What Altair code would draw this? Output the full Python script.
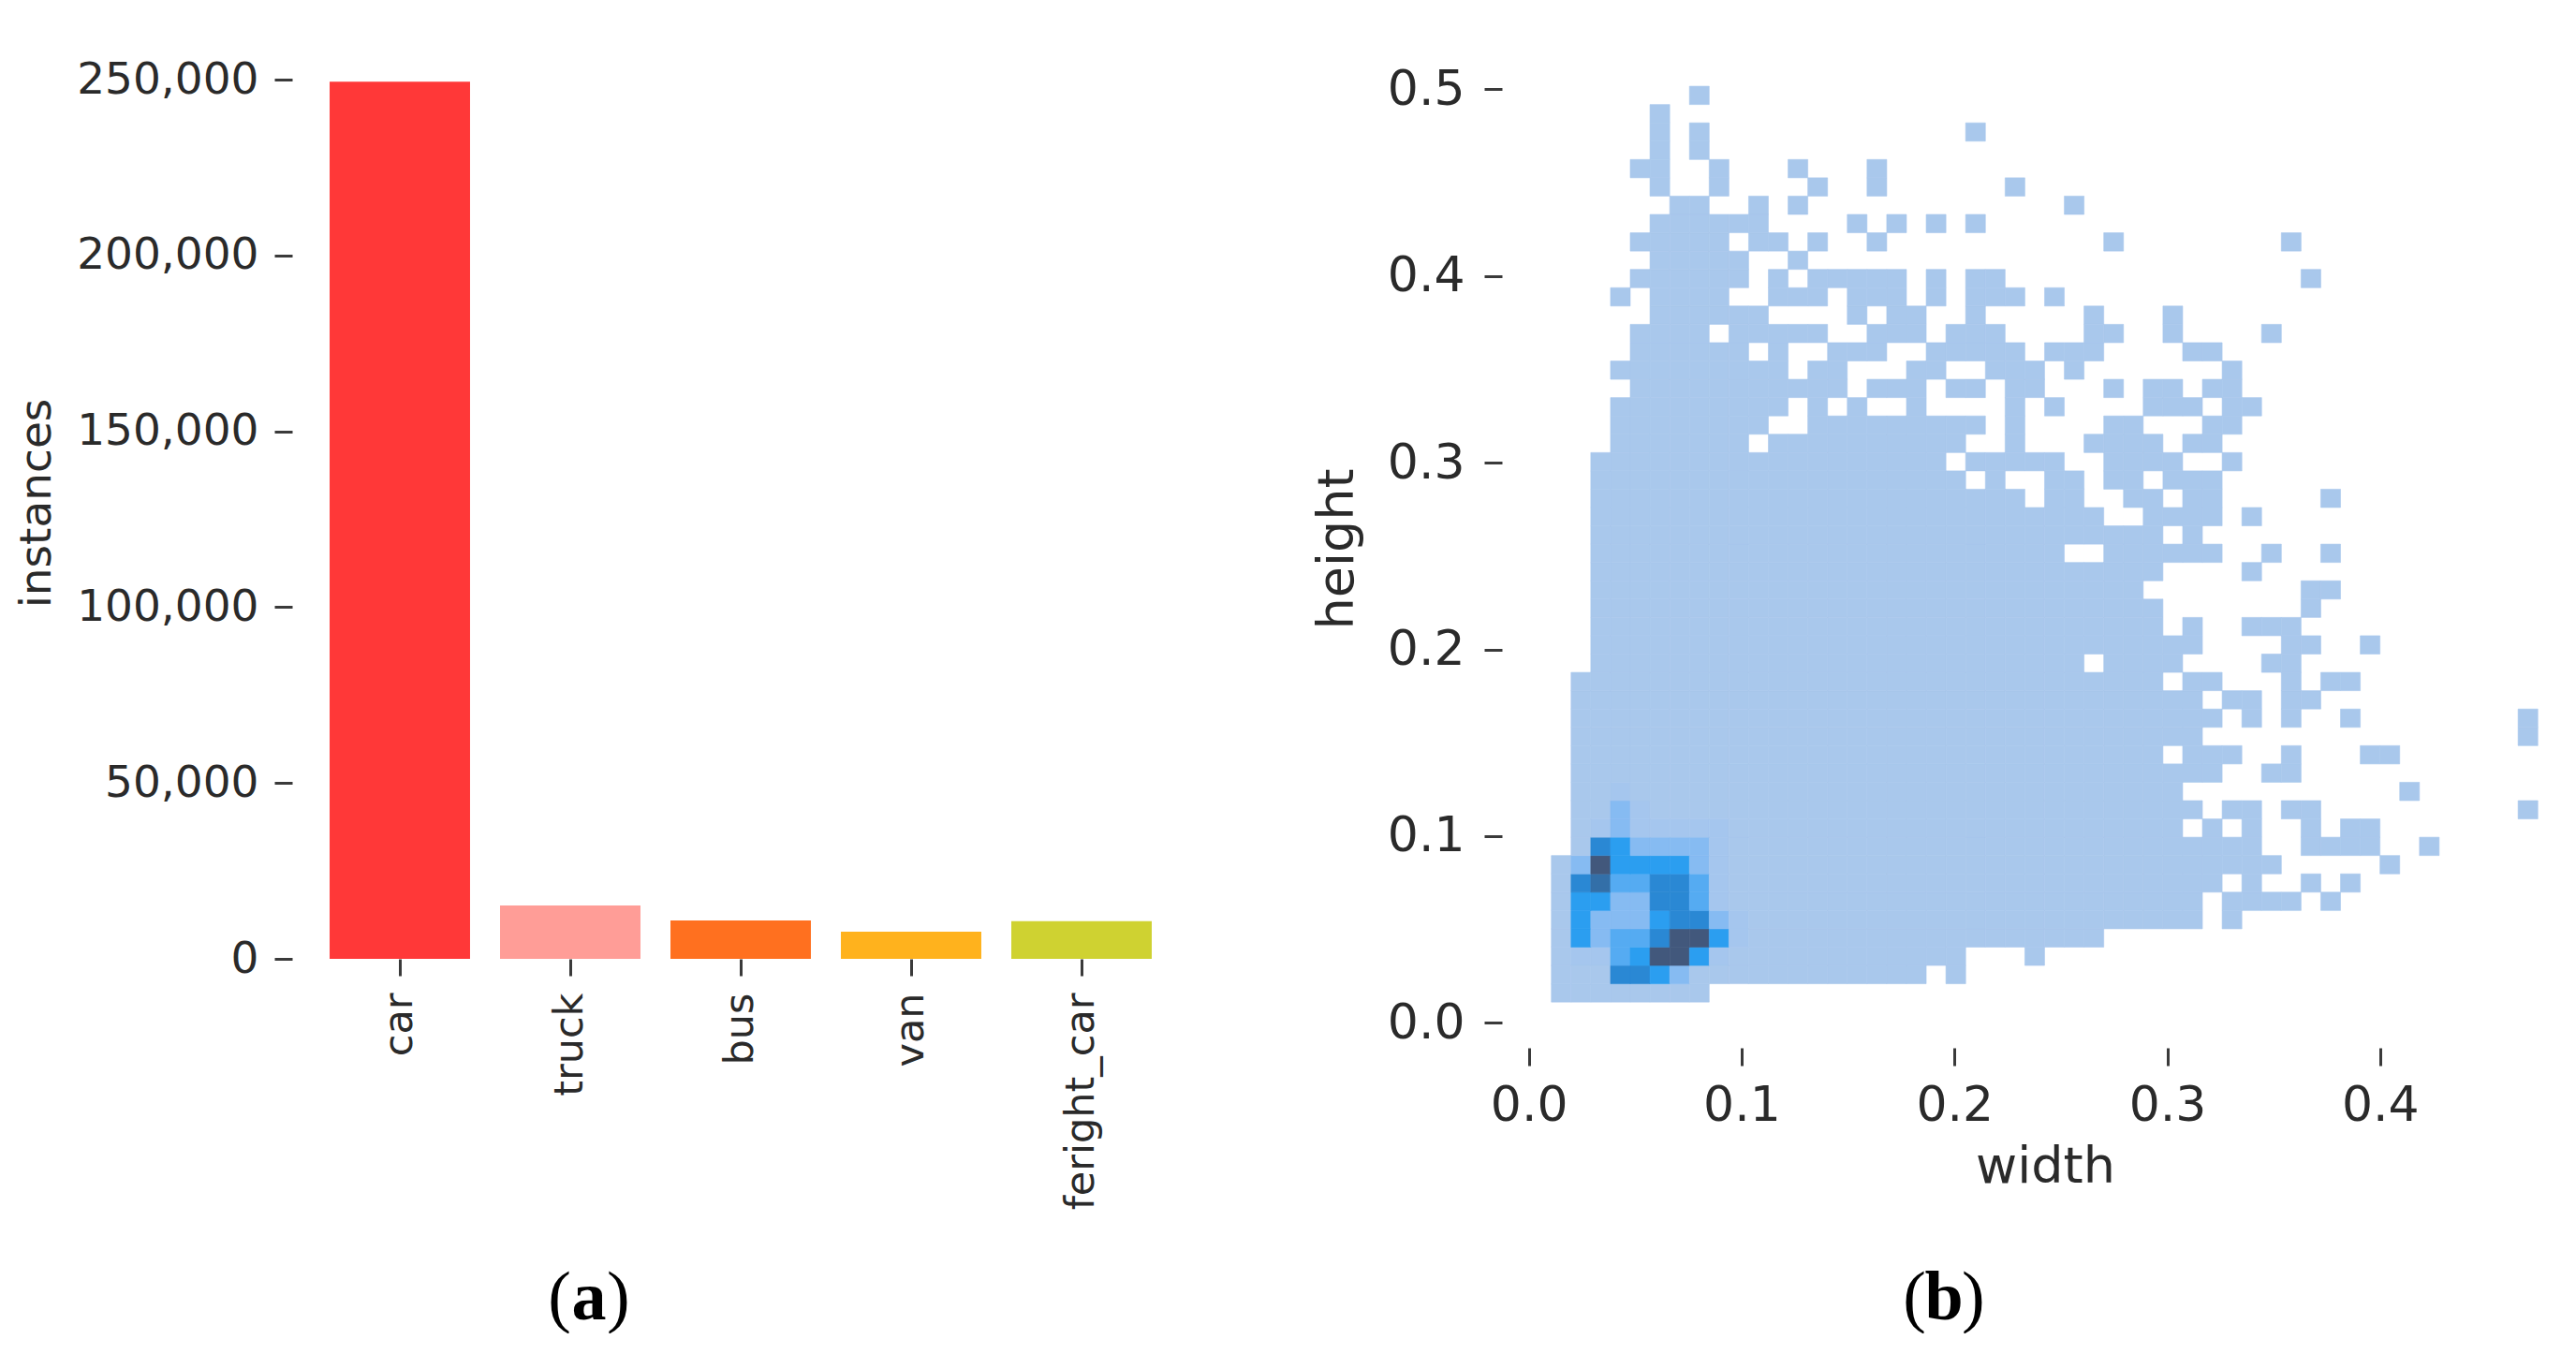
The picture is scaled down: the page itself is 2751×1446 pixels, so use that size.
import altair as alt
import pandas as pd

# ---- panel (a) ----
CATEGORIES = ["car", "truck", "bus", "van", "feright_car"]
INSTANCES = [249400, 15200, 10900, 7700, 10700]
BAR_COLORS = ["#ff3838", "#ff9d97", "#ff701f", "#ffb21d", "#cfd231"]
Y_TICKS_A = [0, 50000, 100000, 150000, 200000, 250000]

# ---- panel (b): 50 x 50 histogram, occupied column runs per row, bottom row first ----
WIDTH_START, WIDTH_BIN = 0.0106, 0.00927
HEIGHT_START, HEIGHT_BIN = 0.01115, 0.00981
OCCUPIED_ROWS = [
    [(0, 7)],
    [(0, 18), (20, 20)],
    [(0, 20), (24, 24)],
    [(0, 27)],
    [(0, 32), (34, 34)],
    [(0, 32), (34, 37), (39, 39)],
    [(0, 33), (35, 35), (38, 38), (40, 40)],
    [(0, 36), (42, 42)],
    [(1, 35), (38, 41), (44, 44)],
    [(1, 31), (33, 33), (35, 35), (38, 38), (40, 41)],
    [(1, 32), (34, 35), (37, 38), (49, 49)],
    [(1, 31), (43, 43)],
    [(1, 33), (36, 37)],
    [(1, 30), (32, 34), (37, 37), (41, 42)],
    [(1, 32), (49, 49)],
    [(1, 33), (35, 35), (37, 37), (40, 40), (49, 49)],
    [(1, 32), (34, 35), (37, 38)],
    [(1, 30), (32, 33), (37, 37), (39, 40)],
    [(2, 26), (28, 31), (36, 37)],
    [(2, 32), (37, 38), (41, 41)],
    [(2, 30), (32, 32), (35, 37)],
    [(2, 30), (38, 38)],
    [(2, 29), (38, 39)],
    [(2, 30), (35, 35)],
    [(2, 25), (28, 33), (36, 36), (39, 39)],
    [(2, 30), (32, 32)],
    [(2, 27), (30, 33), (35, 35)],
    [(2, 23), (25, 26), (29, 30), (32, 33), (39, 39)],
    [(2, 20), (22, 22), (25, 26), (28, 29), (31, 33)],
    [(2, 19), (21, 25), (28, 31), (34, 34)],
    [(3, 9), (11, 20), (23, 23), (27, 30), (32, 33)],
    [(3, 10), (13, 21), (23, 23), (28, 29), (33, 34)],
    [(3, 11), (13, 13), (15, 15), (18, 18), (23, 23), (25, 25), (30, 32), (34, 35)],
    [(4, 14), (16, 18), (20, 21), (23, 24), (28, 28), (30, 31), (33, 34)],
    [(3, 11), (13, 14), (18, 19), (22, 24), (26, 26), (34, 34)],
    [(4, 9), (11, 11), (14, 16), (19, 23), (25, 27), (32, 33)],
    [(4, 7), (9, 13), (16, 18), (20, 22), (27, 28), (31, 31), (36, 36)],
    [(5, 10), (15, 15), (17, 18), (21, 21), (27, 27), (31, 31)],
    [(3, 3), (5, 8), (11, 13), (15, 17), (19, 19), (21, 23), (25, 25)],
    [(4, 9), (11, 11), (13, 17), (19, 19), (21, 22), (38, 38)],
    [(5, 9), (12, 12)],
    [(4, 8), (10, 11), (13, 13), (16, 16), (28, 28), (37, 37)],
    [(5, 10), (15, 15), (17, 17), (19, 19), (21, 21)],
    [(6, 7), (10, 10), (12, 12), (26, 26)],
    [(5, 5), (8, 8), (13, 13), (16, 16), (23, 23)],
    [(4, 5), (8, 8), (12, 12), (16, 16)],
    [(5, 5), (7, 7)],
    [(5, 5), (7, 7), (21, 21)],
    [(5, 5)],
    [(7, 7)],
]
# density level of the first ten columns of the bottom twelve rows
DENSE_ROWS = [
    "1111111111",
    "1116653111",
    "1224588521",
    "1534468852",
    "1533356632",
    "1553366421",
    "1674466421",
    "1385555321",
    "1165333321",
    "1123222221",
    "1113211111",
    "1112111111",
]
LEVELS = ["1", "2", "3", "4", "5", "6", "7", "8"]
LEVEL_COLORS = ["#a9c8ec", "#a5c6ee", "#86bbf2", "#55abf2", "#2b9ef0", "#2a88d4", "#336fa8", "#42587c"]
X_TICKS_B = [0.0, 0.1, 0.2, 0.3, 0.4]
Y_TICKS_B = [0.0, 0.1, 0.2, 0.3, 0.4, 0.5]

FONT = "DejaVu Sans"
INK = "#2a2a2a"
TICK = "#3a3a3a"

cells = []
for r, runs in enumerate(OCCUPIED_ROWS):
    for a, b in runs:
        for c in range(a, b + 1):
            level = "1"
            if r < len(DENSE_ROWS) and c < len(DENSE_ROWS[r]):
                level = DENSE_ROWS[r][c]
            cells.append({
                "x0": WIDTH_START + c * WIDTH_BIN,
                "x1": WIDTH_START + (c + 1) * WIDTH_BIN,
                "y0": HEIGHT_START + r * HEIGHT_BIN,
                "y1": HEIGHT_START + (r + 1) * HEIGHT_BIN,
                "level": level,
            })
cell_df = pd.DataFrame(cells)
bar_df = pd.DataFrame({"category": CATEGORIES, "instances": INSTANCES})


def caption(letter, cx, cy):
    parts = []
    for txt, dx, align, weight in [("(", -19, "right", "normal"), (letter, 0, "center", "bold"), (")", 19, "left", "normal")]:
        parts.append(
            alt.Chart(pd.DataFrame({"t": [txt]}))
            .mark_text(font="Liberation Serif", fontSize=74, color="#000000", align=align,
                       baseline="middle", fontWeight=weight)
            .encode(text="t:N", x=alt.value(cx + dx), y=alt.value(cy))
        )
    return parts


bars = alt.Chart(bar_df).mark_bar().encode(
    x=alt.X("category:N", sort=CATEGORIES, title=None,
            scale=alt.Scale(paddingInner=0.176, paddingOuter=0.088),
            axis=alt.Axis(labelAngle=270, labelFont=FONT, labelFontSize=43, labelColor=INK,
                          tickSize=18, tickWidth=3, tickColor=TICK, labelPadding=18,
                          labelLimit=500, domain=False, grid=False, labelOverlap=False)),
    y=alt.Y("instances:Q", title="instances",
            scale=alt.Scale(domain=[0, 250000], nice=False),
            axis=alt.Axis(values=Y_TICKS_A, format=",.0f", labelFont=FONT, labelFontSize=47,
                          labelColor=INK, tickSize=19, tickWidth=3, tickColor=TICK,
                          labelPadding=17, labelLimit=500, offset=24, domain=False, grid=False,
                          titleFont=FONT, titleFontSize=47, titleFontWeight="normal",
                          titleColor=INK, titleAngle=270, titleX=-273, titleY=452,
                          titleAlign="center", titleBaseline="middle")),
    color=alt.Color("category:N", sort=CATEGORIES, legend=None,
                    scale=alt.Scale(domain=CATEGORIES, range=BAR_COLORS)),
)
panel_a = alt.layer(bars, *caption("a", 293, 1302)).properties(width=910, height=939)

level_scale = alt.Scale(domain=LEVELS, range=LEVEL_COLORS)
hist = alt.Chart(cell_df).mark_rect(strokeWidth=0.6).encode(
    x=alt.X("x0:Q", title="width",
            scale=alt.Scale(domain=[-0.0126, 0.4784], nice=False, zero=False),
            axis=alt.Axis(values=X_TICKS_B, format=".1f", labelFont=FONT, labelFontSize=52,
                          labelColor=INK, tickSize=19, tickWidth=3, tickColor=TICK,
                          labelPadding=17, domain=False, grid=False, labelFlush=False,
                          titleFont=FONT, titleFontSize=54, titleFontWeight="normal",
                          titleColor=INK, titleX=580, titleY=127,
                          titleAlign="center", titleBaseline="middle")),
    x2="x1:Q",
    y=alt.Y("y0:Q", title="height",
            scale=alt.Scale(domain=[-0.01334, 0.5052], nice=False, zero=False),
            axis=alt.Axis(values=Y_TICKS_B, format=".1f", labelFont=FONT, labelFontSize=52,
                          labelColor=INK, tickSize=19, tickWidth=3, tickColor=TICK,
                          labelPadding=21, domain=False, grid=False, labelFlush=False,
                          titleFont=FONT, titleFontSize=54, titleFontWeight="normal",
                          titleColor=INK, titleAngle=270, titleX=-176, titleY=501,
                          titleAlign="center", titleBaseline="middle")),
    y2="y1:Q",
    color=alt.Color("level:N", scale=level_scale, legend=None),
    stroke=alt.Stroke("level:N", scale=level_scale, legend=None),
)
panel_b = alt.layer(hist, *caption("b", 472, 1302)).properties(width=1116, height=1034)

chart = (
    alt.hconcat(panel_a, panel_b, spacing=155)
    .resolve_scale(color="independent", stroke="independent", x="independent", y="independent")
    .properties(background="white", padding={"left": 7, "top": 53, "right": 0, "bottom": 0})
    .configure_view(stroke=None)
)
chart.save("out.html", embed_options={"renderer": "svg", "actions": False})
